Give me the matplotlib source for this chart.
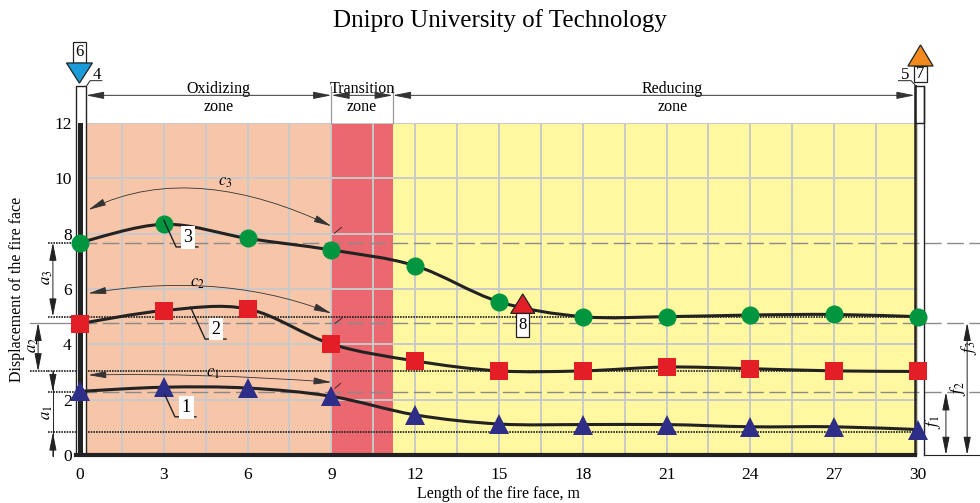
import numpy as np
import matplotlib
matplotlib.use("Agg")
import matplotlib.pyplot as plt
from matplotlib.path import Path
from matplotlib.patches import PathPatch, FancyArrowPatch, Polygon, Rectangle

plt.rcParams["font.family"] = ["Liberation Serif", "DejaVu Serif"]
plt.rcParams["mathtext.fontset"] = "stix"

# data
length = [0, 3, 6, 9, 12, 15, 18, 21, 24, 27, 30]
curve_1 = [2.3, 2.45, 2.42, 2.12, 1.45, 1.12, 1.1, 1.1, 1.02, 1.02, 0.92]
curve_2 = [4.75, 5.22, 5.28, 4.01, 3.4, 3.04, 3.04, 3.18, 3.12, 3.04, 3.02]
curve_3 = [7.68, 8.34, 7.83, 7.41, 6.84, 5.54, 5.0, 5.0, 5.06, 5.08, 5.0]
level_start = [2.27, 4.78, 7.68]
level_end = [0.82, 3.02, 5.0]

zone_edges = [0, 9, 11.2, 30]
zone_names = ["Oxidizing", "Transition", "Reducing"]
zone_colors = ["#F7C5A8", "#EC6870", "#FFF8A0"]
x_ticks = list(range(0, 31, 3))
y_ticks = list(range(0, 13, 2))

INK = "#222222"
GRAY = "#8a8a8a"


def smooth_path(xs, ys):
    p = np.column_stack([xs, ys]).astype(float)
    ext = np.vstack([p[0], p, p[-1]])
    verts, codes = [p[0]], [Path.MOVETO]
    for i in range(len(p) - 1):
        a, b, c, d = ext[i], ext[i + 1], ext[i + 2], ext[i + 3]
        verts += [b + (c - a) / 6, c - (d - b) / 6, c]
        codes += [Path.CURVE4] * 3
    return Path(verts, codes)


def dim_arrow(ax, p0, p1, style="<|-|>", color=INK, lw=0.7):
    ar = FancyArrowPatch(p0, p1, arrowstyle=style + ",head_length=1.1,head_width=0.22",
                         mutation_scale=10, color=color, lw=lw, shrinkA=0, shrinkB=0,
                         clip_on=False, zorder=6)
    ax.add_patch(ar)


def block_arrow(ax, cx, tip, base, end, head_w, shaft_w, color, label):
    head = Polygon([(cx - head_w, base), (cx, tip), (cx + head_w, base)], closed=True,
                   facecolor=color, edgecolor=INK, lw=0.9, clip_on=False, zorder=9)
    shaft = Polygon([(cx - shaft_w, base), (cx + shaft_w, base), (cx + shaft_w, end),
                     (cx - shaft_w, end)], closed=True, facecolor="white",
                    edgecolor=INK, lw=0.9, clip_on=False, zorder=9)
    ax.add_patch(shaft)
    ax.add_patch(head)
    ax.text(cx, (base + end) / 2, label, ha="center", va="center", fontsize=12,
            zorder=10, clip_on=False)


fig = plt.figure(figsize=(9.8, 5.03), dpi=100)
ax = fig.add_axes([0.08163, 0.09543, 0.8551, 0.66004])
ax.set_xlim(0, 30)
ax.set_ylim(0, 12)
for s in ax.spines.values():
    s.set_visible(False)

for i in range(3):
    ax.axvspan(zone_edges[i], zone_edges[i + 1], color=zone_colors[i], lw=0, zorder=0.1)

ax.set_xticks(x_ticks)
ax.set_xticks(np.arange(1.5, 30, 3), minor=True)
ax.set_yticks(y_ticks)
ax.set_axisbelow(True)
ax.grid(True, which="both", axis="x", color="#C9C9C9", lw=1.4)
ax.grid(True, which="major", axis="y", color="#C9C9C9", lw=1.4)
ax.tick_params(which="both", length=0)
ax.tick_params(axis="x", pad=9, labelsize=12.5)
ax.tick_params(axis="y", pad=6, labelsize=12.5)

ax.set_xlabel("Length of the fire face, m", fontsize=11.5, labelpad=2)
ax.set_ylabel("Displacement of the fire face", fontsize=11.5)
ax.yaxis.set_label_coords(-0.066, 0.5)
fig.text(0.51, 0.96, "Dnipro University of Technology", ha="center", va="center",
         fontsize=18)

# reference levels
for lv in level_start:
    ax.plot([0, 32.3], [lv, lv], color=GRAY, lw=1, ls=(0, (12, 4)), clip_on=False, zorder=2)
for lv in level_end:
    ax.plot([-1.15, 29.9], [lv, lv], color=INK, lw=1.2, ls=(0, (1, 0.6)), clip_on=False, zorder=2)
ax.plot([-1.15, 0], [level_start[2]] * 2, color=INK, lw=1.2, ls=(0, (1, 0.6)), clip_on=False)
ax.plot([-1.15, 0], [level_start[0]] * 2, color=INK, lw=1.2, ls=(0, (1, 0.6)), clip_on=False)
ax.plot([-1.8, 0], [level_start[1]] * 2, color=GRAY, lw=0.9, clip_on=False)
ax.plot([-1.8, -1.15], [level_end[1]] * 2, color=INK, lw=1.2, ls=(0, (1, 0.6)), clip_on=False)

# walls
ax.add_patch(Rectangle((-0.16, 0), 0.375, 13.32, facecolor="white", edgecolor=INK, lw=1,
                       clip_on=False, zorder=3))
ax.add_patch(Rectangle((-0.055, 0), 0.16, 12, facecolor=INK, lw=0, clip_on=False, zorder=3.5))
ax.add_patch(Rectangle((29.88, 12), 0.35, 1.32, facecolor="white", edgecolor=INK, lw=1,
                       clip_on=False, zorder=3))
ax.add_patch(Rectangle((30.0, 0), 0.23, 12, facecolor="white", lw=0, clip_on=False, zorder=0.2))
ax.plot([29.88, 29.88], [0, 13.32], color=INK, lw=1.8, clip_on=False, zorder=4)
ax.plot([30.23, 30.23], [0, 13.32], color=INK, lw=1, clip_on=False, zorder=4)
ax.plot([-0.16, 29.9], [0, 0], color=INK, lw=3, clip_on=False, zorder=4)
ax.plot([30.23, 32.3], [0, 0], color=INK, lw=0.8, clip_on=False, zorder=4)

# curves
series = [(curve_1, "^", "#2E2D88", 15), (curve_2, "s", "#E31E26", 13),
          (curve_3, "o", "#00963F", 13)]
for ys, mk, col, ms in series:
    ax.add_patch(PathPatch(smooth_path(length, ys), facecolor="none", edgecolor=INK,
                           lw=2.2, zorder=5, clip_on=False))
    ax.plot(length, ys, ls="none", marker=mk, color=col, ms=ms, mew=0, zorder=7,
            clip_on=False)

# zone dimension line
for i in range(3):
    a = max(zone_edges[i], 0.21)
    b = min(zone_edges[i + 1], 29.88)
    dim_arrow(ax, (a, 13.0), (b, 13.0), color="#333333")
    mid = (zone_edges[i] + zone_edges[i + 1]) / 2
    ax.text(mid + (0.45 if i == 0 else 0) + (0.6 if i == 2 else 0), 13.08, zone_names[i],
            ha="center", va="baseline", fontsize=11.5, clip_on=False)
    ax.text(mid + (0.45 if i == 0 else 0) + (0.6 if i == 2 else 0), 12.45, "zone",
            ha="center", va="baseline", fontsize=11.5, clip_on=False)
for xe in zone_edges[1:3]:
    ax.plot([xe, xe], [12, 13.32], color="#9a9a9a", lw=0.9, clip_on=False)

# numbered callouts
callouts = [("3", (3.0, 8.49), (3.44, 7.52), (4.22, 7.52), (3.86, 7.86)),
            ("2", (3.96, 5.34), (4.48, 4.19), (5.23, 4.19), (4.87, 4.55)),
            ("1", (3.04, 2.17), (3.40, 1.38), (4.15, 1.38), (3.81, 1.72))]
for lab, p0, p1, p2, pc in callouts:
    ax.plot([p0[0], p1[0], p2[0]], [p0[1], p1[1], p2[1]], color=INK, lw=1, zorder=8)
    ax.text(pc[0], pc[1], lab, ha="center", va="center", fontsize=13, zorder=8,
            bbox=dict(boxstyle="square,pad=0.15", facecolor="white", edgecolor="none"))

# c arcs
arcs = [(r"$c_3$", [(0.3, 8.86), (3.0, 10.2), (6.0, 9.7), (9.0, 8.27)], (5.19, 9.86),
         [(9.1, 8.01), (9.37, 8.23)]),
        (r"$c_2$", [(0.3, 5.84), (3.0, 6.3), (6.0, 6.3), (9.0, 5.12)], (4.21, 6.22),
         [(9.13, 4.76), (9.37, 4.94)]),
        (r"$c_1$", [(0.3, 2.89), (3.0, 2.95), (6.0, 2.85), (9.0, 2.63)], (4.75, 2.95),
         [(9.13, 2.41), (9.33, 2.59)])]
for lab, pts, lp, tick in arcs:
    path = Path(pts, [Path.MOVETO, Path.CURVE4, Path.CURVE4, Path.CURVE4])
    ar = FancyArrowPatch(path=path, arrowstyle="<|-|>,head_length=1.1,head_width=0.22",
                         mutation_scale=10, color="#333333", lw=0.6, zorder=6)
    ax.add_patch(ar)
    ax.text(lp[0], lp[1], lab, ha="center", va="center", fontsize=12, zorder=6)
    ax.plot([tick[0][0], tick[1][0]], [tick[0][1], tick[1][1]], color=INK, lw=0.6, zorder=6)

# a dimensions (left)
dim_arrow(ax, (-0.97, level_start[2]), (-0.97, level_end[2]), color=INK)
dim_arrow(ax, (-1.5, level_start[1]), (-1.5, level_end[1]), color=INK)
ax.plot([-0.97, -0.97], [level_end[1], -0.05], color=INK, lw=0.7, clip_on=False)
dim_arrow(ax, (-0.97, level_end[1]), (-0.97, level_start[0]), style="-|>")
dim_arrow(ax, (-0.97, -0.05), (-0.97, level_end[0]), style="-|>")
for lab, x, y in [(r"$a_3$", -1.18, 6.43), (r"$a_2$", -1.68, 3.98), (r"$a_1$", -1.18, 1.52)]:
    ax.text(x, y, lab, rotation=90, ha="center", va="center", fontsize=12, clip_on=False)

# f dimensions (right)
dim_arrow(ax, (31.0, 0), (31.0, level_start[0]))
dim_arrow(ax, (31.76, 0), (31.76, level_start[1]))
for lab, x, y in [(r"$f_1$", 30.55, 1.2), (r"$f_2$", 31.45, 2.41), (r"$f_3$", 31.84, 3.86)]:
    ax.text(x, y, lab, rotation=90, ha="center", va="center", fontsize=12, clip_on=False)

# flow arrows
block_arrow(ax, -0.02, 13.44, 14.17, 14.93, 0.465, 0.233, "#1A9BD7", "6")
block_arrow(ax, 30.09, 14.82, 14.06, 13.48, 0.45, 0.25, "#F28A1E", "7")
block_arrow(ax, 15.85, 5.82, 5.12, 4.28, 0.43, 0.226, "#E31E26", "8")

# wall labels
ax.plot([0.21, 0.36, 0.78], [13.3, 13.53, 13.53], color=INK, lw=0.7, clip_on=False)
ax.text(0.6, 13.75, "4", ha="center", va="center", fontsize=12, clip_on=False)
ax.plot([30.0, 29.75, 29.3], [13.27, 13.53, 13.53], color=INK, lw=0.7, clip_on=False)
ax.text(29.55, 13.75, "5", ha="center", va="center", fontsize=12, clip_on=False)

fig.savefig("out.png", dpi=100)
